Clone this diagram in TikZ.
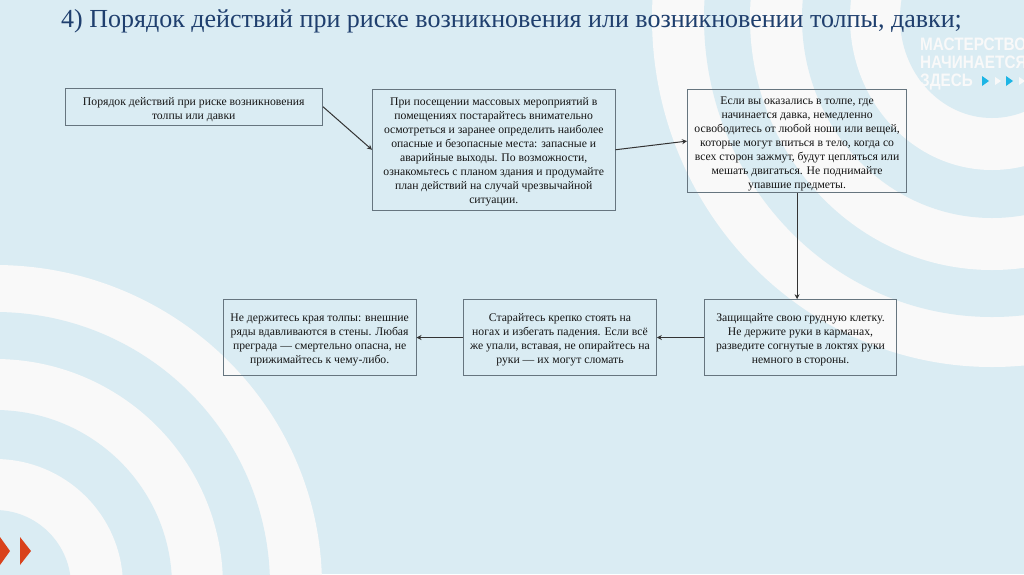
\documentclass[tikz,border=0pt]{standalone}
\usepackage{fontspec}
\setmainfont{Liberation Serif}
\newfontfamily\brandfont{Liberation Sans}
\usetikzlibrary{arrows.meta}
\definecolor{bgblue}{HTML}{DAECF3}
\definecolor{ringwhite}{HTML}{F9F9F9}
\definecolor{titleblue}{HTML}{1F3F6E}
\definecolor{boxline}{HTML}{66757F}
\definecolor{textdark}{HTML}{141414}
\definecolor{brandred}{HTML}{D9421C}
\definecolor{brandcyan}{HTML}{1CB5E5}
\newcommand{\toppad}{\rule{0pt}{12.8pt}}
\tikzset{
  stepbox/.style={draw=boxline,line width=1pt,inner sep=0pt,align=center,text=textdark,
    font=\fontsize{11.7}{14}\selectfont},
  flow/.style={draw=black!80,line width=1pt,-{Stealth[length=5pt,width=5pt]}},
  brand/.style={text=ringwhite,inner sep=0pt,anchor=base west,xscale=0.85,
    font=\brandfont\bfseries\fontsize{18}{18}\selectfont}
}
\begin{document}
\begin{tikzpicture}[x=1pt,y=-1pt]
\useasboundingbox (0,0) rectangle (1024,574);
\begin{scope}
\clip (0,0) rectangle (1024,574);
\fill[bgblue] (0,0) rectangle (1024,574);
% bottom-left rings
\fill[ringwhite] (-5,586) ellipse [x radius=327,y radius=321];
\fill[bgblue]    (-5,586) ellipse [x radius=275,y radius=274];
\fill[ringwhite] (-5,586) ellipse [x radius=228,y radius=227];
\fill[bgblue]    (-5,586) ellipse [x radius=177,y radius=176];
\fill[ringwhite] (-5,586) ellipse [x radius=128,y radius=127];
\fill[bgblue]    (-5,586) ellipse [x radius=76,y radius=76];
% top-right rings
\fill[ringwhite] (992,18) ellipse [x radius=340,y radius=349];
\fill[bgblue]    (992,18) ellipse [x radius=288,y radius=299];
\fill[ringwhite] (992,18) ellipse [x radius=242,y radius=252];
\fill[bgblue]    (992,18) ellipse [x radius=190,y radius=200];
\fill[ringwhite] (992,18) ellipse [x radius=142,y radius=152];
\fill[bgblue]    (992,18) ellipse [x radius=92,y radius=100];
% red chevrons
\fill[brandred] (-4,537) -- (0,537) -- (10,551) -- (0,565) -- (-4,565) -- cycle;
\fill[brandred] (20,537) -- (31,551) -- (20,565) -- cycle;
% brand mark
\node[brand] (brandA) at (920,50.5) {МАСТЕРСТВО};
\node[brand] (brandB) at (920,68.5) {НАЧИНАЕТСЯ};
\node[brand] (brandC) at (920,86.5) {ЗДЕСЬ};
\fill[brandcyan]  (982,76) -- (989,81) -- (982,86) -- cycle;
\fill[ringwhite]  (995,77) -- (1001,81) -- (995,85) -- cycle;
\fill[brandcyan]  (1006,76) -- (1013,81) -- (1006,86) -- cycle;
\fill[ringwhite]  (1019,77) -- (1025,81) -- (1019,85) -- cycle;
\end{scope}
% title
\node[anchor=base west,inner sep=0pt,text=titleblue,font=\fontsize{26}{30}\selectfont] (title) at (61,27)
  {4) Порядок действий при риске возникновения или возникновении толпы, давки;};
% boxes
\node[stepbox,minimum width=257.5pt,minimum height=36.5pt] (b1) at (193.75,106.75)
  {\toppad Порядок действий при риске возникновения\\толпы или давки};
\node[stepbox,minimum width=242.5pt,minimum height=120.5pt] (b2) at (493.75,149.75)
  {\toppad При посещении массовых мероприятий в\\помещениях постарайтесь внимательно\\осмотреться и заранее определить наиболее\\опасные и безопасные места: запасные и\\аварийные выходы. По возможности,\\ознакомьтесь с планом здания и продумайте\\план действий на случай чрезвычайной\\ситуации.};
\node[stepbox,minimum width=219.2pt,minimum height=103.2pt] (b3) at (797.1,141.1)
  {\toppad Если вы оказались в толпе, где\\начинается давка, немедленно\\освободитесь от любой ноши или вещей,\\которые могут впиться в тело, когда со\\всех сторон зажмут, будут цепляться или\\мешать двигаться. Не поднимайте\\упавшие предметы.};
\node[stepbox,minimum width=192.4pt,minimum height=75.6pt] (b4) at (800.5,337.5)
  {\toppad Защищайте свою грудную клетку.\\Не держите руки в карманах,\\разведите согнутые в локтях руки\\немного в стороны.};
\node[stepbox,minimum width=192.6pt,minimum height=75.6pt] (b5) at (560,337.5)
  {\toppad Старайтесь крепко стоять на\\ногах и избегать падения. Если всё\\же упали, вставая, не опирайтесь на\\руки — их могут сломать};
\node[stepbox,minimum width=192.7pt,minimum height=75.6pt] (b6) at (319.65,337.5)
  {\toppad Не держитесь края толпы: внешние\\ряды вдавливаются в стены. Любая\\преграда — смертельно опасна, не\\прижимайтесь к чему-либо.};
% connectors
\draw[flow] (b1.east) -- (b2.west);
\draw[flow] (b2.east) -- (b3.west);
\draw[flow] (b3.south) -- (b3.south |- b4.north);
\draw[flow] (b4.west) -- (b5.east);
\draw[flow] (b5.west) -- (b6.east);
\end{tikzpicture}
\end{document}
